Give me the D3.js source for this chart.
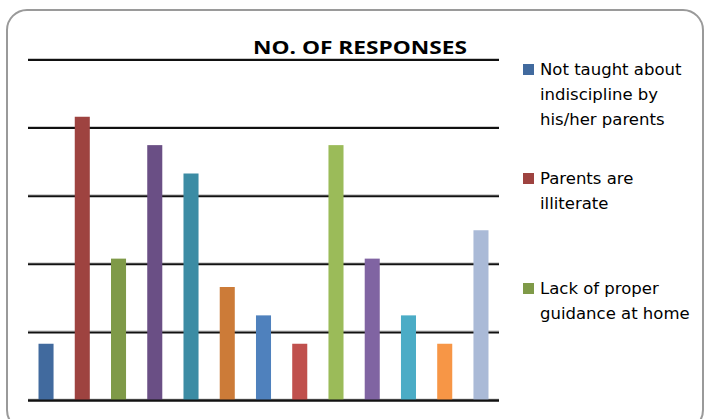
<!DOCTYPE html>
<html>
<head>
<meta charset="utf-8">
<script src="https://cdn.jsdelivr.net/npm/d3@7"></script>
<style>
  body { margin: 0; background: #fff; }
  svg { display: block; font-family: "DejaVu Sans", sans-serif; }
</style>
</head>
<body>
<svg width="706" height="419"></svg>
<script>
// bar values, one per response
const barValues = [10, 50, 25, 45, 40, 20, 15, 10, 45, 25, 15, 10, 30];
const barColors = ['#416A9E', '#9E4340', '#7F9A48', '#6A4F85', '#3C8CA4', '#CC7B38',
                   '#4F81BD', '#C0504D', '#9BBB59', '#8064A2', '#4BACC6', '#F79646', '#AABAD7'];
const gridTicks = [0, 12, 24, 36, 48, 60];
// only the first three legend entries fit in the picture
const legendLabels = [
    ['Not taught about', 'indiscipline by', 'his/her parents'],
    ['Parents are', 'illiterate'],
    ['Lack of proper', 'guidance at home']
];

const svg = d3.select('svg');
const left = 28, right = 499;

// chart frame
svg.append('rect')
    .attr('x', 7).attr('y', 10)
    .attr('width', 696).attr('height', 420)
    .attr('rx', 20).attr('ry', 20)
    .attr('fill', '#fff')
    .attr('stroke', '#9a9a9a')
    .attr('stroke-width', 2);

const x = d3.scaleBand()
    .domain(d3.range(barValues.length))
    .range([left, right])
    .paddingInner(0.585)
    .paddingOuter(0.29);

const y = d3.scaleLinear()
    .domain([0, 60])
    .range([400.5, 60]);

//gridlines (thin grey edge + black line, like the original)
const grid = svg.append('g');
grid.selectAll('line.edge').data(gridTicks)
    .enter().append('line')
    .attr('class', 'edge')
    .attr('x1', left).attr('x2', right)
    .attr('y1', d => y(d) - 1.5).attr('y2', d => y(d) - 1.5)
    .attr('stroke', '#c8c8c8').attr('stroke-width', 1);
grid.selectAll('line.main').data(gridTicks)
    .enter().append('line')
    .attr('class', 'main')
    .attr('x1', left).attr('x2', right)
    .attr('y1', d => y(d)).attr('y2', d => y(d))
    .attr('stroke', '#111').attr('stroke-width', 2);

//bars
svg.append('g').selectAll('rect').data(barValues)
    .enter().append('rect')
    .attr('x', (_d, i) => x(i))
    .attr('y', d => y(d))
    .attr('width', x.bandwidth())
    .attr('height', d => y(0) - y(d))
    .attr('fill', (_d, i) => barColors[i]);

// baseline drawn on top of bars
svg.append('line')
    .attr('x1', left).attr('x2', right)
    .attr('y1', y(0)).attr('y2', y(0))
    .attr('stroke', '#111').attr('stroke-width', 2);

//title
svg.append('text')
    .attr('x', 360).attr('y', 54)
    .attr('text-anchor', 'middle')
    .attr('font-family', '"Open Sans", sans-serif')
    .attr('font-size', 17)
    .attr('font-weight', 'bold')
    .attr('fill', '#000')
    .attr('textLength', 214)
    .attr('lengthAdjust', 'spacingAndGlyphs')
    .text('NO. OF RESPONSES');

//legend
const legendTops = [75, 184, 294];
const legend = svg.append('g').selectAll('g').data(legendLabels)
    .enter().append('g')
    .attr('transform', (_d, i) => `translate(523, ${legendTops[i]})`);

legend.append('rect')
    .attr('y', -11)
    .attr('width', 11).attr('height', 11)
    .attr('fill', (_d, i) => barColors[i]);

legend.append('text')
    .attr('font-size', 16.5)
    .attr('fill', '#000')
    .selectAll('tspan').data(d => d)
    .enter().append('tspan')
    .attr('x', 17)
    .attr('y', (_d, i) => i * 25)
    .text(d => d);
</script>
</body>
</html>
